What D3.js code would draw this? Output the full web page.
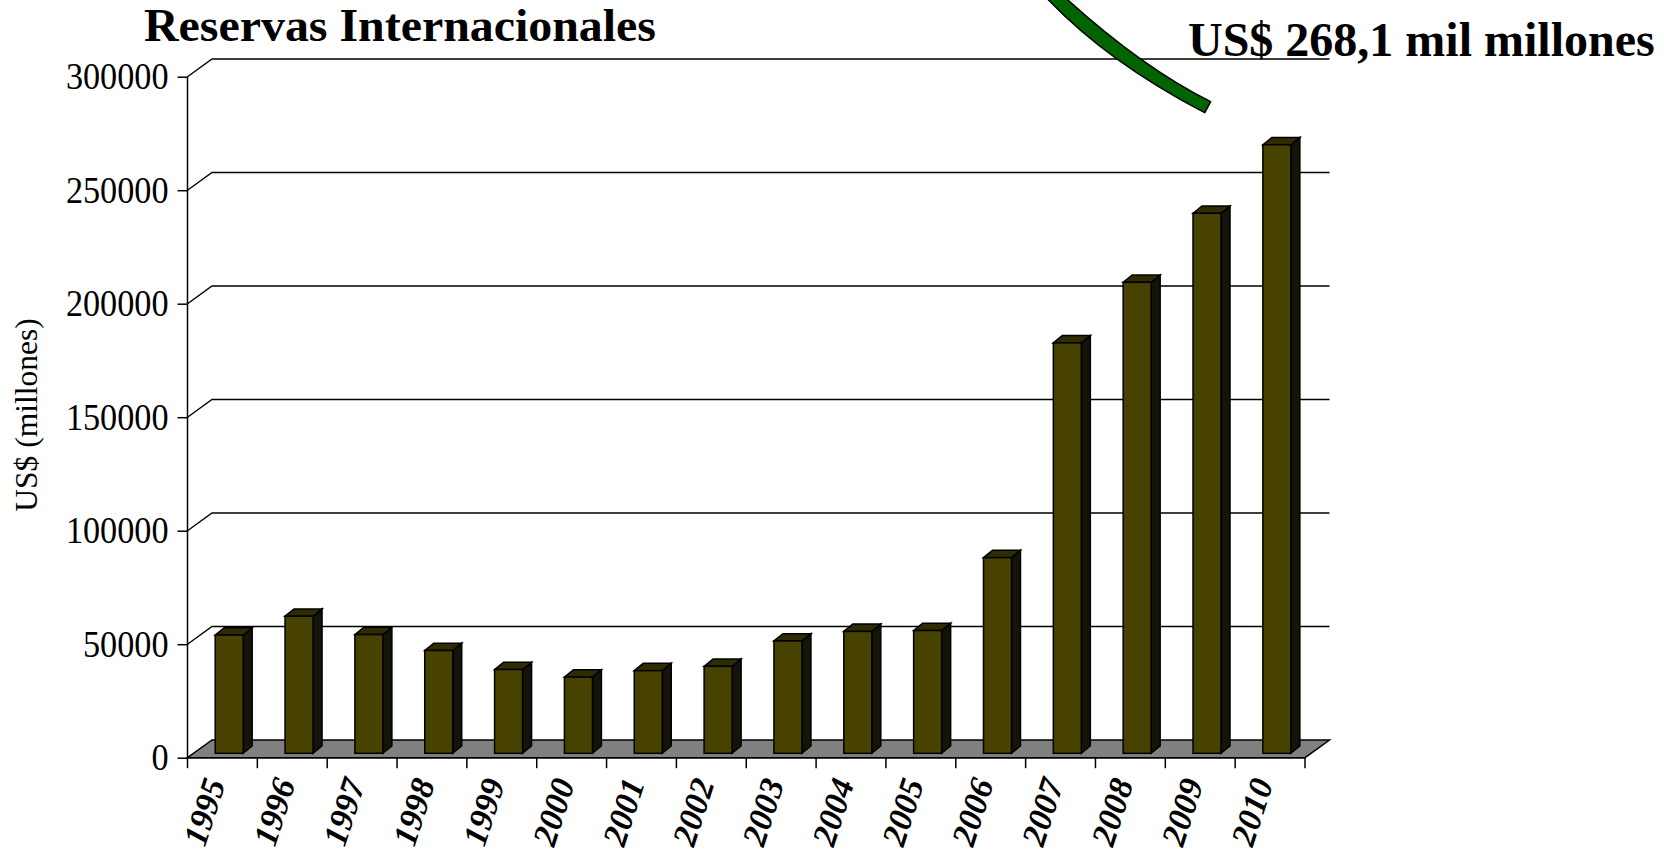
<!DOCTYPE html>
<html><head><meta charset="utf-8">
<script src="https://cdnjs.cloudflare.com/ajax/libs/d3/7.8.5/d3.min.js"></script>
<style>html,body{margin:0;padding:0;background:#fff}svg{display:block}text{font-family:"Liberation Serif",serif;fill:#000}</style>
</head><body><svg id="c" width="1664" height="852"></svg>
<script>
const years=["1995","1996","1997","1998","1999","2000","2001","2002","2003","2004","2005","2006","2007","2008","2009","2010"];
const reserves=[52100,60400,52300,45300,36900,33600,36400,38300,49500,53700,54100,86200,180800,207500,237900,268100];
const yTicks=[0,50000,100000,150000,200000,250000,300000];
const titleText="Reservas Internacionales";
const noteText="US$ 268,1 mil millones";
const yAxisText="US$ (millones)";

const svg=d3.select("#c");
const L=187.5,R=1305,Y0=757.7,Y1=76.7,DX=24.5,DY=17.7;
const x=d3.scaleBand().domain(years).range([L,R]);
const y=d3.scaleLinear().domain([0,300000]).range([Y0,Y1]);
const barW=28,barOff=27.7,bdx=9,bdy=7.3,baseLift=4.4;

// floor
svg.append("polygon").attr("points",[[L,Y0],[L+DX,Y0-DY],[R+DX,Y0-DY],[R,Y0]].join(" "))
  .attr("fill","#808080").attr("stroke","#000").attr("stroke-width",1.5);
// gridlines with wall diagonals
yTicks.slice(1).forEach(t=>{
  svg.append("path").attr("fill","none").attr("stroke","#000").attr("stroke-width",1.4)
    .attr("d",`M${L},${y(t)}L${L+DX},${y(t)-DY}H${R+DX}`);
});
// bars
const g=svg.append("g").selectAll("g").data(years.map((k,i)=>({k,v:reserves[i]}))).join("g")
  .attr("stroke","#000").attr("stroke-width",1.5).attr("stroke-linejoin","miter");
const bx=d=>x(d.k)+barOff, by=d=>y(d.v)-baseLift, bb=Y0-baseLift;
g.append("polygon").attr("fill","#14140a").attr("points",d=>{const a=bx(d)+barW,t=by(d);return [[a,t],[a+bdx,t-bdy],[a+bdx,bb-bdy],[a,bb]].join(" ")});
g.append("polygon").attr("fill","#2f2c04").attr("points",d=>{const a=bx(d),t=by(d);return [[a,t],[a+bdx,t-bdy],[a+barW+bdx,t-bdy],[a+barW,t]].join(" ")});
g.append("rect").attr("fill","#474200").attr("x",bx).attr("y",by).attr("width",barW).attr("height",d=>bb-by(d));

// y axis
const ya=d3.axisLeft(y).tickValues(yTicks).tickFormat(d3.format("d")).tickSize(10).tickPadding(9);
const yg=svg.append("g").attr("transform",`translate(${L},0)`).call(ya);
yg.select(".domain").attr("stroke","#000").attr("stroke-width",1.5).attr("d",`M0,${Y1}V${Y0}`);
yg.selectAll(".tick line").attr("stroke","#000").attr("stroke-width",1.5);
yg.selectAll("text").attr("font-family","Liberation Serif").attr("font-size",37).attr("fill","#000")
  .attr("textLength",d=>String(d).length*17.1).attr("lengthAdjust","spacingAndGlyphs");

// x axis
const xa=d3.axisBottom(x).tickValues(years).tickSize(0).tickFormat("");
const xg=svg.append("g").attr("transform",`translate(0,${Y0})`).call(xa);
xg.select(".domain").attr("stroke","#000").attr("stroke-width",1.5).attr("d",`M${L},0H${R}`);
const edges=years.map(k=>x(k)).concat([R]);
xg.selectAll(".edge").data(edges).join("line").attr("x1",d=>d).attr("x2",d=>d).attr("y1",0).attr("y2",10.5).attr("stroke","#000").attr("stroke-width",1.5);
svg.append("g").selectAll("text").data(years).join("text")
  .attr("transform",k=>`translate(${x(k)+x.bandwidth()/2-4},${Y0+23}) rotate(-72)`)
  .attr("text-anchor","end").attr("dominant-baseline","middle")
  .attr("font-size",34).attr("font-weight","bold").attr("font-style","italic").text(k=>k);

// titles
svg.append("text").attr("x",144).attr("y",41).attr("font-size",45.5).attr("font-weight","bold")
  .attr("textLength",512).attr("lengthAdjust","spacingAndGlyphs").text(titleText);
svg.append("text").attr("x",1188).attr("y",56).attr("font-size",48).attr("font-weight","bold").text(noteText);
svg.append("text").attr("transform","translate(37,415) rotate(-90)").attr("text-anchor","middle").attr("font-size",31.5).text(yAxisText);

// arrow stroke
svg.append("path").attr("fill","#006400").attr("stroke","#000").attr("stroke-width",1.5)
  .attr("d","M1065.7,-2Q1141.5,67 1210.6,101.7L1204.7,112.7Q1107.4,62 1046.6,-2Z");
</script></body></html>
